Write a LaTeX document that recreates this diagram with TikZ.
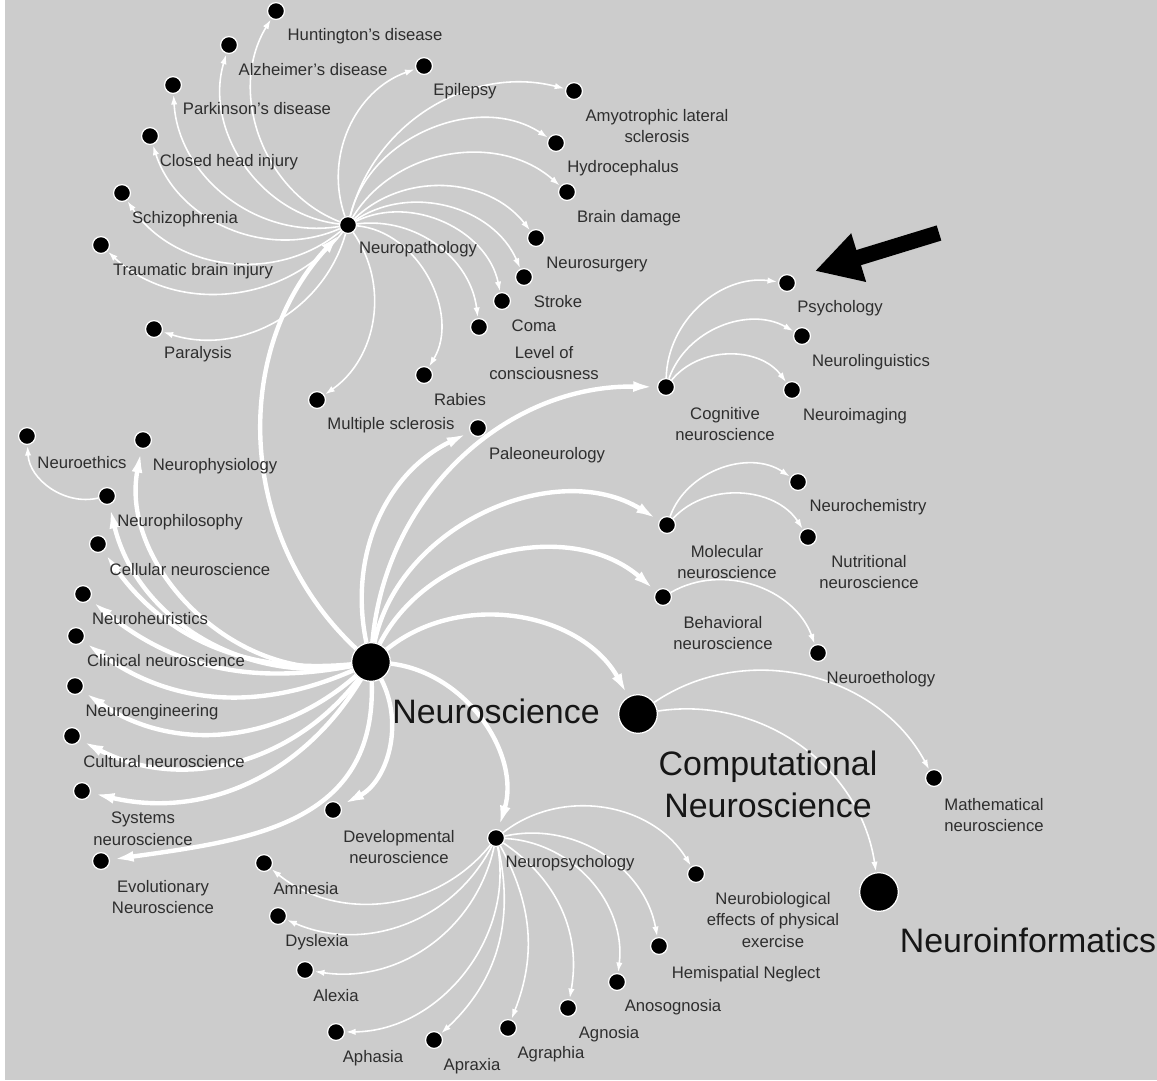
\documentclass[tikz,border=0pt]{standalone}
\usepackage{fontspec}
\setmainfont{Liberation Sans}
\definecolor{PanelGray}{HTML}{CCCCCC}
\definecolor{LabelInk}{HTML}{2E2E2E}
\definecolor{HubInk}{HTML}{161616}
\usetikzlibrary{arrows.meta}

\begin{document}
\begin{tikzpicture}[x=0.02cm, y=0.02cm,
    dot/.style={circle, fill=black, draw=white, line width=0.7pt, inner sep=0pt, minimum size=9.6pt},
    hub/.style={dot, minimum size=22pt},
    lbl/.style={font=\fontsize{9.5}{12.4}\selectfont, text=LabelInk, align=center, inner sep=0pt},
    biglbl/.style={font=\fontsize{19.3}{24}\selectfont, text=HubInk, align=center, inner sep=0pt},
    thickedge/.style={draw=white, line width=2.5pt, -{Latex[length=13pt, width=6pt]}, shorten >=0.5pt},
    thinedge/.style={draw=white, line width=0.9pt, -{Latex[length=5.5pt, width=3.6pt]}, shorten >=0.5pt}]

  % panel
  \fill[white] (0,0) rectangle (1157,-1080);
  \fill[PanelGray] (5,0) rectangle (1157,-1080);
  \useasboundingbox (0,0) rectangle (1157,-1080);

  % hubs
  \node[hub] (nsci) at (371,-662) {};
  \node[hub] (comp) at (638,-714) {};
  \node[hub] (ninf) at (879,-892) {};

  % neuropathology branch
  \node[dot] (npath) at (348,-225) {};
  \node[dot] (hunt) at (276,-11) {};
  \node[dot] (alz) at (229,-45) {};
  \node[dot] (park) at (173,-85) {};
  \node[dot] (chi) at (150,-136) {};
  \node[dot] (schiz) at (122,-193) {};
  \node[dot] (tbi) at (101,-245) {};
  \node[dot] (paral) at (154,-329) {};
  \node[dot] (ms) at (317,-400) {};
  \node[dot] (rabies) at (424,-375) {};
  \node[dot] (loc) at (479,-327) {};
  \node[dot] (coma) at (502,-301) {};
  \node[dot] (stroke) at (524,-277) {};
  \node[dot] (nsurg) at (536,-238) {};
  \node[dot] (braind) at (567,-192) {};
  \node[dot] (hydro) at (556,-143) {};
  \node[dot] (als) at (574,-91) {};
  \node[dot] (epil) at (424,-66) {};
  \node[dot] (paleo) at (478,-428) {};

  % right branches
  \node[dot] (cog) at (666,-387) {};
  \node[dot] (psych) at (787,-283) {};
  \node[dot] (nling) at (802,-336) {};
  \node[dot] (nimg) at (792,-390) {};
  \node[dot] (mol) at (667,-525) {};
  \node[dot] (nchem) at (798,-482) {};
  \node[dot] (nutr) at (808,-537) {};
  \node[dot] (beh) at (663,-597) {};
  \node[dot] (neth) at (818,-653) {};
  \node[dot] (math) at (934,-778) {};

  % left fan
  \node[dot] (nethics) at (27,-436) {};
  \node[dot] (nphys) at (143,-440) {};
  \node[dot] (nphil) at (107,-496) {};
  \node[dot] (cell) at (98,-544) {};
  \node[dot] (nheur) at (83,-594) {};
  \node[dot] (clin) at (76,-636) {};
  \node[dot] (neng) at (75,-686) {};
  \node[dot] (cult) at (72,-736) {};
  \node[dot] (syst) at (82,-791) {};
  \node[dot] (evol) at (101,-861) {};
  \node[dot] (devel) at (333,-810) {};

  % neuropsychology branch
  \node[dot] (npsy) at (496,-838) {};
  \node[dot] (amnes) at (264,-863) {};
  \node[dot] (dysl) at (278,-916) {};
  \node[dot] (alex) at (305,-970) {};
  \node[dot] (aphas) at (336,-1032) {};
  \node[dot] (aprax) at (434,-1040) {};
  \node[dot] (agra) at (508,-1028) {};
  \node[dot] (agno) at (568,-1008) {};
  \node[dot] (anos) at (617,-982) {};
  \node[dot] (hemi) at (659,-946) {};
  \node[dot] (nbio) at (696,-874) {};

  % connectors
  \foreach \t/\b in {npath/45, paleo/38, cog/43, mol/55, beh/52, comp/50, npsy/50, devel/45,
                     nphys/55, nphil/43, cell/30, nheur/25, clin/30, neng/38, cult/40, syst/36}
    \draw[thickedge] (nsci) to[bend left=\b] (\t);
  \draw[thickedge] (nsci) to[out=-88, in=8, looseness=1.15] (evol);
  \foreach \t/\b in {hunt/50, alz/50, park/48, chi/48, schiz/48, tbi/48, paral/46, ms/45, rabies/58,
                     loc/45, coma/52, stroke/50, nsurg/48, braind/50, hydro/55, als/45, epil/45}
    \draw[thinedge] (npath) to[bend left=\b] (\t);
  \foreach \t/\b in {psych/48, nling/50, nimg/52}
    \draw[thinedge] (cog) to[bend left=\b] (\t);
  \foreach \t/\b in {nchem/52, nutr/52}
    \draw[thinedge] (mol) to[bend left=\b] (\t);
  \draw[thinedge] (beh) to[bend left=50] (neth);
  \draw[thinedge] (comp) to[bend left=48] (math);
  \draw[thinedge] (comp) to[bend left=45] (ninf);
  \draw[thinedge] (nphil) to[bend left=50] (nethics);
  \foreach \t/\b in {amnes/45, dysl/43, alex/43, aphas/50, aprax/30, agra/25, agno/33, anos/47, hemi/46, nbio/48}
    \draw[thinedge] (npsy) to[bend left=\b] (\t);

  % pointer
  \coordinate (ptrTail) at (939,-233);
  \coordinate (ptrTip) at (815,-271);
  \draw[line width=9pt, -{Triangle[length=26pt, width=27pt]}] (ptrTail) -- (ptrTip);

  % labels
  \node[biglbl] (nsciL) at (496,-711) {Neuroscience};
  \node[biglbl] (compL) at (768,-784) {Computational\\Neuroscience};
  \node[biglbl] (ninfL) at (1028,-940) {Neuroinformatics};

  \node[lbl] (npathL) at (418,-249) {Neuropathology};
  \node[lbl] (huntL) at (365,-36) {Huntington's disease};
  \node[lbl] (alzL) at (313,-70) {Alzheimer's disease};
  \node[lbl] (parkL) at (257,-109) {Parkinson's disease};
  \node[lbl] (chiL) at (229,-162) {Closed head injury};
  \node[lbl] (schizL) at (185,-219) {Schizophrenia};
  \node[lbl] (tbiL) at (193,-271) {Traumatic brain injury};
  \node[lbl] (paralL) at (198,-354) {Paralysis};
  \node[lbl] (msL) at (391,-425) {Multiple sclerosis};
  \node[lbl] (rabiesL) at (460,-400) {Rabies};
  \node[lbl] (locL) at (544,-363) {Level of\\consciousness};
  \node[lbl] (comaL) at (534,-326) {Coma};
  \node[lbl] (strokeL) at (558,-302) {Stroke};
  \node[lbl] (nsurgL) at (597,-264) {Neurosurgery};
  \node[lbl] (braindL) at (629,-218) {Brain damage};
  \node[lbl] (hydroL) at (623,-168) {Hydrocephalus};
  \node[lbl] (alsL) at (657,-126) {Amyotrophic lateral\\sclerosis};
  \node[lbl] (epilL) at (465,-91) {Epilepsy};
  \node[lbl] (paleoL) at (547,-455) {Paleoneurology};

  \node[lbl] (cogL) at (725,-424) {Cognitive\\neuroscience};
  \node[lbl] (psychL) at (840,-308) {Psychology};
  \node[lbl] (nlingL) at (871,-362) {Neurolinguistics};
  \node[lbl] (nimgL) at (855,-416) {Neuroimaging};
  \node[lbl] (molL) at (727,-562) {Molecular\\neuroscience};
  \node[lbl] (nchemL) at (868,-507) {Neurochemistry};
  \node[lbl] (nutrL) at (869,-572) {Nutritional\\neuroscience};
  \node[lbl] (behL) at (723,-633) {Behavioral\\neuroscience};
  \node[lbl] (nethL) at (881,-679) {Neuroethology};
  \node[lbl] (mathL) at (994,-815) {Mathematical\\neuroscience};

  \node[lbl] (nethicsL) at (82,-463) {Neuroethics};
  \node[lbl] (nphysL) at (215,-466) {Neurophysiology};
  \node[lbl] (nphilL) at (180,-522) {Neurophilosophy};
  \node[lbl] (cellL) at (190,-570) {Cellular neuroscience};
  \node[lbl] (nheurL) at (150,-619) {Neuroheuristics};
  \node[lbl] (clinL) at (166,-661) {Clinical neuroscience};
  \node[lbl] (nengL) at (152,-712) {Neuroengineering};
  \node[lbl] (cultL) at (164,-762) {Cultural neuroscience};
  \node[lbl] (systL) at (143,-829) {Systems\\neuroscience};
  \node[lbl] (evolL) at (163,-897) {Evolutionary\\Neuroscience};
  \node[lbl] (develL) at (399,-847) {Developmental\\neuroscience};

  \node[lbl] (npsyL) at (570,-863) {Neuropsychology};
  \node[lbl] (amnesL) at (306,-889) {Amnesia};
  \node[lbl] (dyslL) at (317,-942) {Dyslexia};
  \node[lbl] (alexL) at (336,-996) {Alexia};
  \node[lbl] (aphasL) at (373,-1058) {Aphasia};
  \node[lbl] (apraxL) at (472,-1066) {Apraxia};
  \node[lbl] (agraL) at (551,-1054) {Agraphia};
  \node[lbl] (agnoL) at (609,-1034) {Agnosia};
  \node[lbl] (anosL) at (673,-1007) {Anosognosia};
  \node[lbl] (hemiL) at (746,-974) {Hemispatial Neglect};
  \node[lbl] (nbioL) at (773,-920) {Neurobiological\\effects of physical\\exercise};
\end{tikzpicture}
\end{document}
